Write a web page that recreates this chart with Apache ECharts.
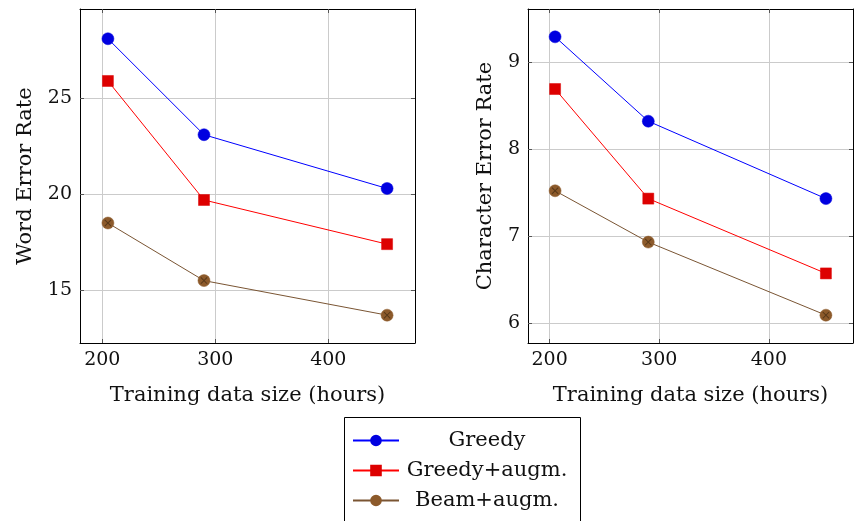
<!DOCTYPE html>
<html>
<head>
<meta charset="utf-8">
<script src="https://cdn.jsdelivr.net/npm/echarts@6/dist/echarts.min.js"></script>
<style>
  html, body { margin: 0; padding: 0; background: #fff; }
  #chart { width: 854px; height: 521px; }
</style>
</head>
<body>
<div id="chart"></div>
<script>
// training data size (hours)
var hours = [205, 290, 452];
var xTicks = [200, 300, 400];

// word error rate
var werGreedy = [28.1, 23.1, 20.3];
var werGreedyAug = [25.9, 19.7, 17.4];
var werBeamAug = [18.5, 15.5, 13.7];
var werTicks = [15, 20, 25];

// character error rate
var cerGreedy = [9.29, 8.32, 7.43];
var cerGreedyAug = [8.69, 7.43, 6.57];
var cerBeamAug = [7.52, 6.93, 6.09];
var cerTicks = [6, 7, 8, 9];

var names = ['Greedy', 'Greedy+augm.', 'Beam+augm.'];

var FONT = 'DejaVu Serif';
var crossPath = 'path://M0,1 L1,0 L10,9 L9,10 Z M9,0 L10,1 L1,10 L0,9 Z';

// small deep merge, enough for the axis objects below
function extend(target) {
    for (var i = 1; i < arguments.length; i++) {
        var src = arguments[i];
        for (var k in src) {
            var v = src[k];
            if (v && typeof v === 'object' && !Array.isArray(v)) {
                target[k] = extend((target[k] && typeof target[k] === 'object') ? target[k] : {}, v);
            } else {
                target[k] = Array.isArray(v) ? v.slice() : v;
            }
        }
    }
    return target;
}

function pairs(ys) {
    return hours.map(function (h, i) { return [h, ys[i]]; });
}

function xAxes(gi) {
    var base = {
        type: 'value', gridIndex: gi, min: 180.3, max: 476.7,
        axisLine: { show: true, onZero: false, lineStyle: { color: '#000', width: 1 } },
        axisTick: { show: true, inside: true, length: 4, customValues: xTicks, lineStyle: { color: '#555' } },
        splitLine: { show: false }
    };
    var bottom = extend({}, base, {
        position: 'bottom',
        name: 'Training data size (hours)', nameLocation: 'middle', nameGap: 42,
        nameTextStyle: { fontFamily: FONT, fontSize: 21, color: '#111' },
        axisLabel: { customValues: xTicks, fontFamily: FONT, fontSize: 19, color: '#111', margin: 8 },
        splitLine: { show: true, lineStyle: { color: '#cbcbcb', width: 1 } }
    });
    var top = extend({}, base, { position: 'top', axisLabel: { show: false } });
    return [bottom, top];
}

function yAxes(gi, min, max, ticks, title, gap) {
    var base = {
        type: 'value', gridIndex: gi, min: min, max: max,
        axisLine: { show: true, onZero: false, lineStyle: { color: '#000', width: 1 } },
        axisTick: { show: true, inside: true, length: 4, customValues: ticks, lineStyle: { color: '#555' } },
        splitLine: { show: false }
    };
    var left = extend({}, base, {
        position: 'left',
        name: title, nameLocation: 'middle', nameGap: gap, nameRotate: 90,
        nameTextStyle: { fontFamily: FONT, fontSize: 21, color: '#111' },
        axisLabel: { customValues: ticks, fontFamily: FONT, fontSize: 19, color: '#111', margin: 8 },
        splitLine: { show: true, lineStyle: { color: '#cbcbcb', width: 1 } }
    });
    var right = extend({}, base, { position: 'right', axisLabel: { show: false } });
    return [left, right];
}

function lineSeries(name, ys, xi, yi, color, lineColor, symbol, size) {
    return {
        name: name, type: 'line', xAxisIndex: xi, yAxisIndex: yi,
        data: pairs(ys), symbol: symbol, symbolSize: size,
        lineStyle: { color: lineColor, width: 1 },
        itemStyle: { color: color, borderColor: color, borderWidth: 0.5 },
        emphasis: { disabled: true }, z: 3
    };
}

function crossSeries(ys, xi, yi) {
    return {
        name: 'cross', type: 'scatter', xAxisIndex: xi, yAxisIndex: yi,
        data: pairs(ys), symbol: crossPath, symbolSize: 7,
        itemStyle: { color: '#4a2f14' }, silent: true, z: 4
    };
}

function panel(gi, g, ga, b) {
    var xi = gi * 2, yi = gi * 2;
    return [
        lineSeries(names[0], g, xi, yi, '#0000e0', '#0000ff', 'circle', 12),
        lineSeries(names[1], ga, xi, yi, '#dd0000', '#ff0000', 'rect', 11),
        lineSeries(names[2], b, xi, yi, '#8c5a2b', '#7a5533', 'circle', 12),
        crossSeries(b, xi, yi)
    ];
}

var chart = echarts.init(document.getElementById('chart'), null, { renderer: 'canvas' });

chart.setOption({
    animation: false,
    backgroundColor: '#fff',
    grid: [
        { left: 80, top: 9, width: 335, height: 334, show: false },
        { left: 528, top: 9, width: 325, height: 334, show: false }
    ],
    xAxis: xAxes(0).concat(xAxes(1)),
    yAxis: yAxes(0, 12.25, 29.65, werTicks, 'Word Error Rate', 44)
        .concat(yAxes(1, 5.77, 9.61, cerTicks, 'Character Error Rate', 32)),
    // legend frame runs past the bottom edge, as in the original
    graphic: [{
        type: 'rect', left: 344, top: 417, z: 0,
        shape: { width: 236, height: 120 },
        style: { fill: '#fff', stroke: '#000', lineWidth: 1 }
    }],
    legend: {
        data: names,
        orient: 'vertical',
        left: 352, top: 430,
        padding: 0,
        itemGap: 9,
        itemWidth: 46, itemHeight: 12,
        formatter: function (name) { return '{t|' + name + '}'; },
        textStyle: {
            fontFamily: FONT, fontSize: 21, color: '#111',
            rich: { t: { width: 166, height: 22, align: 'center', fontFamily: FONT, fontSize: 21, color: '#111' } }
        }
    },
    series: panel(0, werGreedy, werGreedyAug, werBeamAug)
        .concat(panel(1, cerGreedy, cerGreedyAug, cerBeamAug))
});
</script>
</body>
</html>
